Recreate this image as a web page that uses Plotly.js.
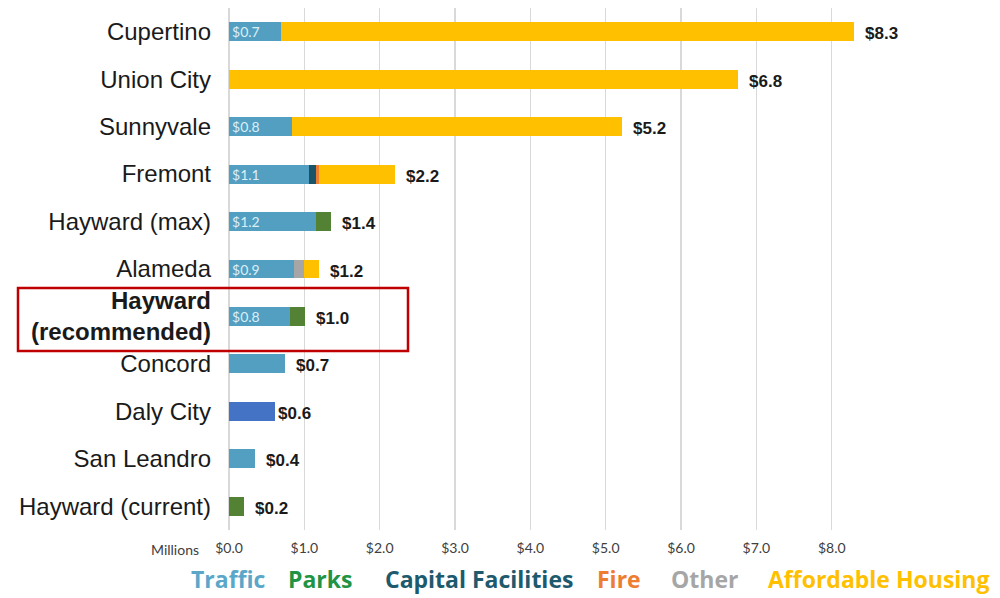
<!DOCTYPE html>
<html>
<head>
<meta charset="utf-8">
<script src="https://cdn.plot.ly/plotly-3.0.1.min.js"></script>
<style>html,body{margin:0;padding:0;background:#fff;}#chart{width:1000px;height:598px;}</style>
</head>
<body>
<div id="chart"></div>
<script>
// ---- data ----
const cities = ["Cupertino","Union City","Sunnyvale","Fremont","Hayward (max)","Alameda","Hayward (recommended)","Concord","Daly City","San Leandro","Hayward (current)"];
const cityTickText = ["Cupertino","Union City","Sunnyvale","Fremont","Hayward (max)","Alameda","<b>Hayward</b><br><b>(recommended)</b>","Concord","Daly City","San Leandro","Hayward (current)"];
const traffic    = [0.69, 0,    0.83, 1.06, 1.15, 0.86, 0.81, 0.74, 0.61, 0.35, 0];
const parks      = [0,    0,    0,    0,    0.20, 0,    0.20, 0,    0,    0,    0.20];
const capital    = [0,    0,    0,    0.09, 0,    0,    0,    0,    0,    0,    0];
const fire       = [0,    0,    0,    0.05, 0,    0,    0,    0,    0,    0,    0];
const other      = [0,    0,    0,    0,    0,    0.14, 0,    0,    0,    0,    0];
const affordable = [7.61, 6.75, 4.39, 1.00, 0,    0.20, 0,    0,    0,    0,    0];
const trafficLabels = ["$0.7","","$0.8","$1.1","$1.2","$0.9","$0.8","","","",""];
const totalLabels = ["$8.3","$6.8","$5.2","$2.2","$1.4","$1.2","$1.0","$0.7","$0.6","$0.4","$0.2"];
const legendNames = ["Traffic","Parks","Capital Facilities","Fire","Other","Affordable Housing"];
const xTickVals = [0,1,2,3,4,5,6,7,8];
const xTickText = ["$0.0","$1.0","$2.0","$3.0","$4.0","$5.0","$6.0","$7.0","$8.0"];

// ---- styles ----
const C = {traffic:"#529FC2", daly:"#4472C4", parks:"#548235", capital:"#1B5468", fire:"#ED7D31", other:"#A6A6A6", ah:"#FFC000"};
const legendColors = ["#5BA7C9","#1E9444","#1D5A6E","#ED7D31","#A6A6A6","#FFC000"];
const legendX = [189, 286, 383, 595, 669, 766]; // pixel left edges
const L = 229, R = 108, T = 8, B = 68, W = 1000 - L - R, H = 598 - T - B;

const trafficColors = cities.map(c => c === "Daly City" ? C.daly : C.traffic);

function seg(vals, color, name, extra) {
  return Object.assign({
    type: "bar", orientation: "h", y: cities, x: vals, name: name,
    marker: {color: color, line: {width: 0}}, hoverinfo: "x+name"
  }, extra || {});
}

const data = [
  seg(traffic, trafficColors, "Traffic", {
    text: trafficLabels, textposition: "inside", insidetextanchor: "start",
    textangle: 0, constraintext: "none",
    textfont: {family: "Lato, 'Open Sans', sans-serif", size: 14, color: "#DCEEF6"}
  }),
  seg(parks, C.parks, "Parks"),
  seg(capital, C.capital, "Capital Facilities"),
  seg(fire, C.fire, "Fire"),
  seg(other, C.other, "Other"),
  seg(affordable, C.ah, "Affordable Housing")
];

const totals = cities.map((c, i) => traffic[i] + parks[i] + capital[i] + fire[i] + other[i] + affordable[i]);

const annotations = cities.map((c, i) => ({
  x: totals[i], y: c, xref: "x", yref: "y", xanchor: "left", yanchor: "middle",
  xshift: c === "Daly City" ? 1 : 9, yshift: -2,
  text: "<b>" + totalLabels[i] + "</b>", showarrow: false,
  font: {family: "'Liberation Sans', Arial, sans-serif", size: 17, color: "#1a1a1a"}
}));

annotations.push({
  xref: "paper", yref: "paper", x: 0, y: 0, xanchor: "right", yanchor: "middle",
  xshift: -28, yshift: -19, text: "Millions", showarrow: false,
  font: {family: "Lato, sans-serif", size: 14, color: "#404040"}
});

legendNames.forEach((n, i) => {
  annotations.push({
    xref: "paper", yref: "paper", x: (legendX[i] - L) / W, y: (T + H - 579) / H,
    xanchor: "left", yanchor: "middle", text: n, showarrow: false,
    font: {family: "'Open Sans', sans-serif", size: 23, weight: 700, color: legendColors[i]}
  });
});

const layout = {
  width: 1000, height: 598,
  margin: {l: L, r: R, t: T, b: B, pad: 0},
  barmode: "stack", bargap: 0.6,
  showlegend: false,
  paper_bgcolor: "#fff", plot_bgcolor: "#fff",
  xaxis: {
    range: [0, 8.8], tickvals: xTickVals, ticktext: xTickText,
    showgrid: true, gridcolor: "#D9D9D9", gridwidth: 1.5,
    zeroline: true, zerolinecolor: "#D9D9D9", zerolinewidth: 1.5,
    showline: false, ticks: "", ticklabelstandoff: 8,
    tickfont: {family: "Lato, sans-serif", size: 14, color: "#404040"},
    fixedrange: true
  },
  yaxis: {
    type: "category", autorange: "reversed",
    tickvals: cities, ticktext: cityTickText,
    showgrid: false, zeroline: false, showline: false, ticks: "",
    ticklabelstandoff: 17,
    tickfont: {family: "'Liberation Sans', Arial, sans-serif", size: 24, color: "#1a1a1a"},
    fixedrange: true
  },
  shapes: [{
    type: "rect", xref: "paper", yref: "paper",
    x0: (18 - L) / W, x1: (408 - L) / W,
    y0: (T + H - 351) / H, y1: (T + H - 288) / H,
    line: {color: "#C00000", width: 2.5}, fillcolor: "rgba(0,0,0,0)"
  }],
  annotations: annotations
};

Plotly.newPlot("chart", data, layout, {displayModeBar: false, staticPlot: true});
</script>
</body>
</html>
